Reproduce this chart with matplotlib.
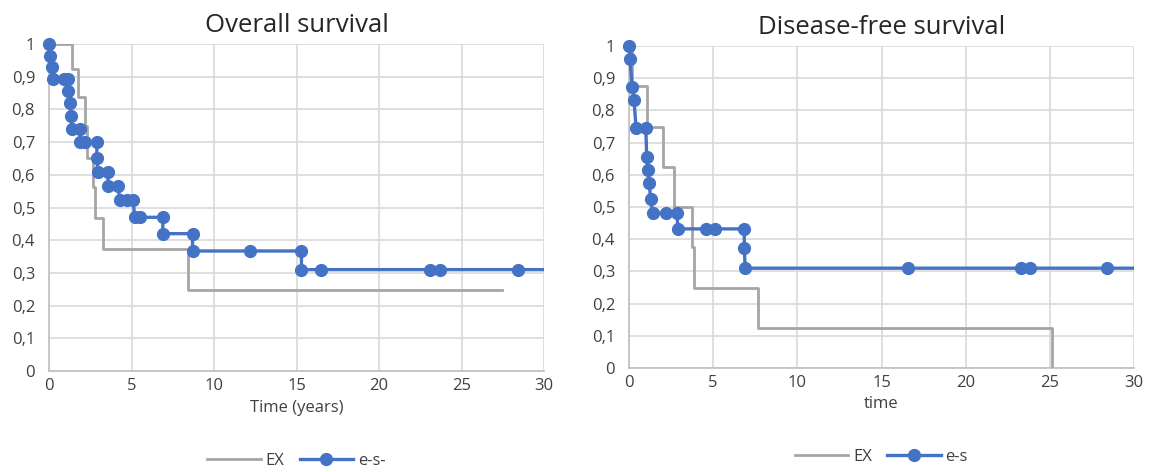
import matplotlib
matplotlib.use("Agg")
import matplotlib.pyplot as plt
from matplotlib.ticker import FuncFormatter

plt.rcParams['font.family'] = ['Open Sans', 'DejaVu Sans']

# ---- Overall survival ----
os_ex_x = [0, 1.39, 1.39, 1.76, 1.76, 2.18, 2.18, 2.3, 2.3, 2.67, 2.67, 2.79, 2.79, 3.27, 3.27, 8.42, 8.42, 27.45]
os_ex_y = [1.0, 1.0, 0.924, 0.924, 0.838, 0.838, 0.75, 0.75, 0.651, 0.651, 0.563, 0.563, 0.468, 0.468, 0.373, 0.373, 0.248, 0.248]

os_es_x = [0, 0.06, 0.18, 0.24, 0.9, 1.15, 1.15, 1.27, 1.33, 1.39, 1.88, 1.88, 2.18, 2.9, 2.9, 2.97,
           3.58, 3.58, 4.18, 4.3, 4.73, 5.09, 5.2, 5.5, 6.9, 6.9, 8.7, 8.7, 12.2, 15.3, 15.3, 16.5,
           23.1, 23.7, 28.4, 31.5]
os_es_y = [1.0, 0.963, 0.93, 0.893, 0.893, 0.893, 0.857, 0.82, 0.78, 0.74, 0.74, 0.70, 0.70, 0.70, 0.65, 0.61,
           0.61, 0.566, 0.566, 0.523, 0.523, 0.523, 0.47, 0.47, 0.47, 0.42, 0.42, 0.367, 0.367, 0.367, 0.31, 0.31,
           0.31, 0.31, 0.31, 0.31]

# ---- Disease-free survival ----
dfs_ex_x = [0, 0.15, 0.15, 1.07, 1.07, 2.02, 2.02, 2.67, 2.67, 3.74, 3.74, 3.86, 3.86, 7.66, 7.66, 25.13, 25.13]
dfs_ex_y = [1.0, 1.0, 0.875, 0.875, 0.75, 0.75, 0.625, 0.625, 0.5, 0.5, 0.375, 0.375, 0.25, 0.25, 0.125, 0.125, 0.0]

dfs_es_x = [0, 0.06, 0.18, 0.3, 0.42, 1.0, 1.05, 1.12, 1.2, 1.28, 1.4, 2.2, 2.85, 2.9, 4.6, 5.1,
            6.85, 6.85, 6.9, 16.6, 23.3, 23.8, 28.4, 31.5]
dfs_es_y = [1.0, 0.96, 0.873, 0.832, 0.745, 0.745, 0.655, 0.615, 0.575, 0.525, 0.481, 0.481, 0.481, 0.432, 0.432, 0.432,
            0.432, 0.373, 0.31, 0.31, 0.31, 0.31, 0.31, 0.31]

titles = ["Overall survival", "Disease-free survival"]
xlabels = ["Time (years)", "time"]
legend_labels = [("EX", "e-s-"), ("EX", "e-s")]
x_ticks = [0, 5, 10, 15, 20, 25, 30]
y_ticks = [0, 0.1, 0.2, 0.3, 0.4, 0.5, 0.6, 0.7, 0.8, 0.9, 1.0]

BLUE = "#4472C4"
GRAY = "#A5A5A5"
GRID = "#D9D9D9"
TXT = "#404040"

W, H = 1151, 472
fig = plt.figure(figsize=(W / 100, H / 100), dpi=100)
ax1 = fig.add_axes([49 / W, 1 - 371 / H, (544 - 49) / W, (371 - 44) / H])
ax2 = fig.add_axes([629 / W, 1 - 368 / H, (1134 - 629) / W, (368 - 46) / H])

fmt = FuncFormatter(lambda v, p: ("%g" % round(v, 1)).replace(".", ","))

data = [(os_ex_x, os_ex_y, os_es_x, os_es_y), (dfs_ex_x, dfs_ex_y, dfs_es_x, dfs_es_y)]
for i, ax in enumerate([ax1, ax2]):
    exx, exy, esx, esy = data[i]
    l1, = ax.plot(exx, exy, color=GRAY, lw=2.0, label=legend_labels[i][0], zorder=3)
    # line (clipped to the plot area) and markers (not clipped, like Excel)
    ax.plot(esx, esy, color=BLUE, lw=2.4, zorder=4)
    inside = [(x, y) for x, y in zip(esx, esy) if x <= 30]
    ax.plot([p[0] for p in inside], [p[1] for p in inside], linestyle='none', marker='o',
            markersize=8.5, color=BLUE, zorder=5, clip_on=False)
    l2, = ax.plot([], [], color=BLUE, lw=2.4, marker='o', markersize=8.5, label=legend_labels[i][1])
    ax.set_xlim(0, 30)
    ax.set_ylim(0, 1)
    ax.set_xticks(x_ticks)
    ax.set_yticks(y_ticks)
    ax.yaxis.set_major_formatter(fmt)
    ax.grid(True, color=GRID, lw=1.2, zorder=0)
    ax.set_axisbelow(True)
    for s in ['top', 'right']:
        ax.spines[s].set_visible(False)
    for s in ['left', 'bottom']:
        ax.spines[s].set_color("#BFBFBF")
        ax.spines[s].set_linewidth(1.2)
    ax.tick_params(axis='y', length=0, labelsize=12, colors=TXT, pad=10)
    ax.tick_params(axis='x', length=0, labelsize=12, colors=TXT, pad=5)
    ax.set_title(titles[i], fontsize=18.5, color="#262626", pad=9)
    ax.set_xlabel(xlabels[i], fontsize=12, color=TXT, labelpad=4)
    ax.legend(handles=[l1, l2], loc='center', bbox_to_anchor=(0.5, -(461 - 371) / 327),
              ncol=2, frameon=False, fontsize=12, handlelength=3.2,
              columnspacing=0.9, handletextpad=0.3, labelcolor=TXT)

fig.savefig("out.png", dpi=100)
